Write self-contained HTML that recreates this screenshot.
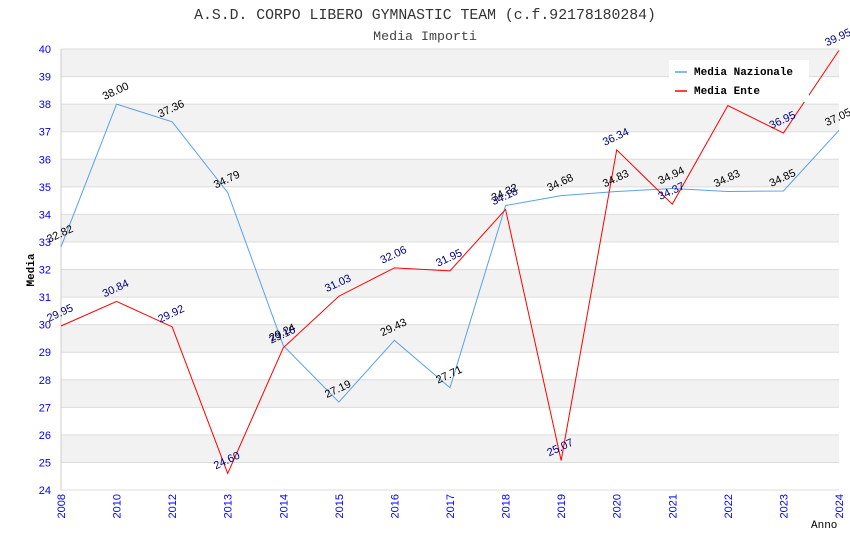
<!DOCTYPE html>
<html><head><meta charset="utf-8"><style>
body{margin:0;background:#fff;width:850px;height:550px;overflow:hidden}
svg{display:block}
</style></head><body>
<svg id="c" width="850" height="550" xmlns="http://www.w3.org/2000/svg">
<text x="425" y="19" text-anchor="middle" font-family="Liberation Mono, monospace" font-size="14.8" fill="#333">A.S.D. CORPO LIBERO GYMNASTIC TEAM (c.f.92178180284)</text>
<text x="425" y="40" text-anchor="middle" font-family="Liberation Mono, monospace" font-size="13.3" fill="#444">Media Importi</text>
<g id="bands"></g><g id="axes"></g><g id="series"></g><g id="labels"></g>
<g>
<rect x="669" y="60" width="140" height="42" fill="#fff"/>
<line x1="675" y1="72" x2="687" y2="72" stroke="#5aa0e8" stroke-width="1.5"/>
<text x="694" y="75" font-family="Liberation Mono, monospace" font-size="11" font-weight="bold" fill="#000">Media Nazionale</text>
<line x1="675" y1="91" x2="687" y2="91" stroke="#f00" stroke-width="1.5"/>
<text x="694" y="94" font-family="Liberation Mono, monospace" font-size="11" font-weight="bold" fill="#000">Media Ente</text>
</g>
<text x="34" y="270" transform="rotate(-90 34 270)" text-anchor="middle" font-family="Liberation Mono, monospace" font-size="11" font-weight="bold" fill="#000">Media</text>
<text x="811" y="528" font-family="Liberation Mono, monospace" font-size="11" fill="#000">Anno</text>
</svg>
<script>
const years=["2008","2010","2012","2013","2014","2015","2016","2017","2018","2019","2020","2021","2022","2023","2024"];
const nazionale=[32.82,38.00,37.36,34.79,29.24,27.19,29.43,27.71,34.32,34.68,34.83,34.94,34.83,34.85,37.05];
const ente=[29.95,30.84,29.92,24.60,29.16,31.03,32.06,31.95,34.18,25.07,36.34,34.37,37.95,36.95,39.95];
const yTicks=[24,25,26,27,28,29,30,31,32,33,34,35,36,37,38,39,40];
const L=61,R=839,T=49,B=490,yMin=24,yMax=40;
const NS="http://www.w3.org/2000/svg";
const X=i=>L+(R-L)*i/(years.length-1);
const Y=v=>B-(B-T)*(v-yMin)/(yMax-yMin);
function mk(tag,attrs,parent,txt){const e=document.createElementNS(NS,tag);for(const k in attrs)e.setAttribute(k,attrs[k]);if(txt!==undefined)e.textContent=txt;document.getElementById(parent).appendChild(e);return e;}
for(let i=0;i<yTicks.length-1;i++){
  const v=yTicks[i];
  const r=mk('rect',{x:L,y:Y(v+1),width:R-L,height:Y(v)-Y(v+1),fill:(i%2===1)?'#f2f2f2':'#fff'},'bands');
  
  
}
yTicks.forEach(v=>{
  const l=mk('line',{x1:L,x2:R,y1:Y(v),y2:Y(v),stroke:'#dcdcdc','stroke-width':1},'axes');
  
  
  const t=mk('text',{x:L-10,y:Y(v)+4,'text-anchor':'end','font-family':'Liberation Sans, sans-serif','font-size':11,fill:'#0000ff'},'axes',String(v));
  
  
});
const ax=mk('line',{x1:L,x2:L,y1:T,y2:B,stroke:'#ccc'},'axes');


years.forEach((y,i)=>{
  const x=X(i);
  const t=mk('text',{x:x+4,y:B+4,transform:`rotate(-90 ${x+4} ${B+4})`,'text-anchor':'end','font-family':'Liberation Sans, sans-serif','font-size':11,fill:'#0000ff'},'axes',y);
  
  
});
function series(vals,color,lblColor,name){
  const p=mk('polyline',{points:vals.map((v,i)=>X(i)+','+Y(v)).join(' '),fill:'none',stroke:color,'stroke-width':1},'series');
  
  
  vals.forEach((v,i)=>{
    const x=X(i)-12,y=Y(v)-4;
    const t=mk('text',{x:x,y:y,transform:`rotate(-25 ${x} ${y})`,'font-family':'Liberation Sans, sans-serif','font-size':11,fill:lblColor},'labels',v.toFixed(2));
    
    
  });
}
series(nazionale,'#5aa0e8','#000','nazionale');
series(ente,'#ff0000','#000080','ente');
</script>
</body></html>
